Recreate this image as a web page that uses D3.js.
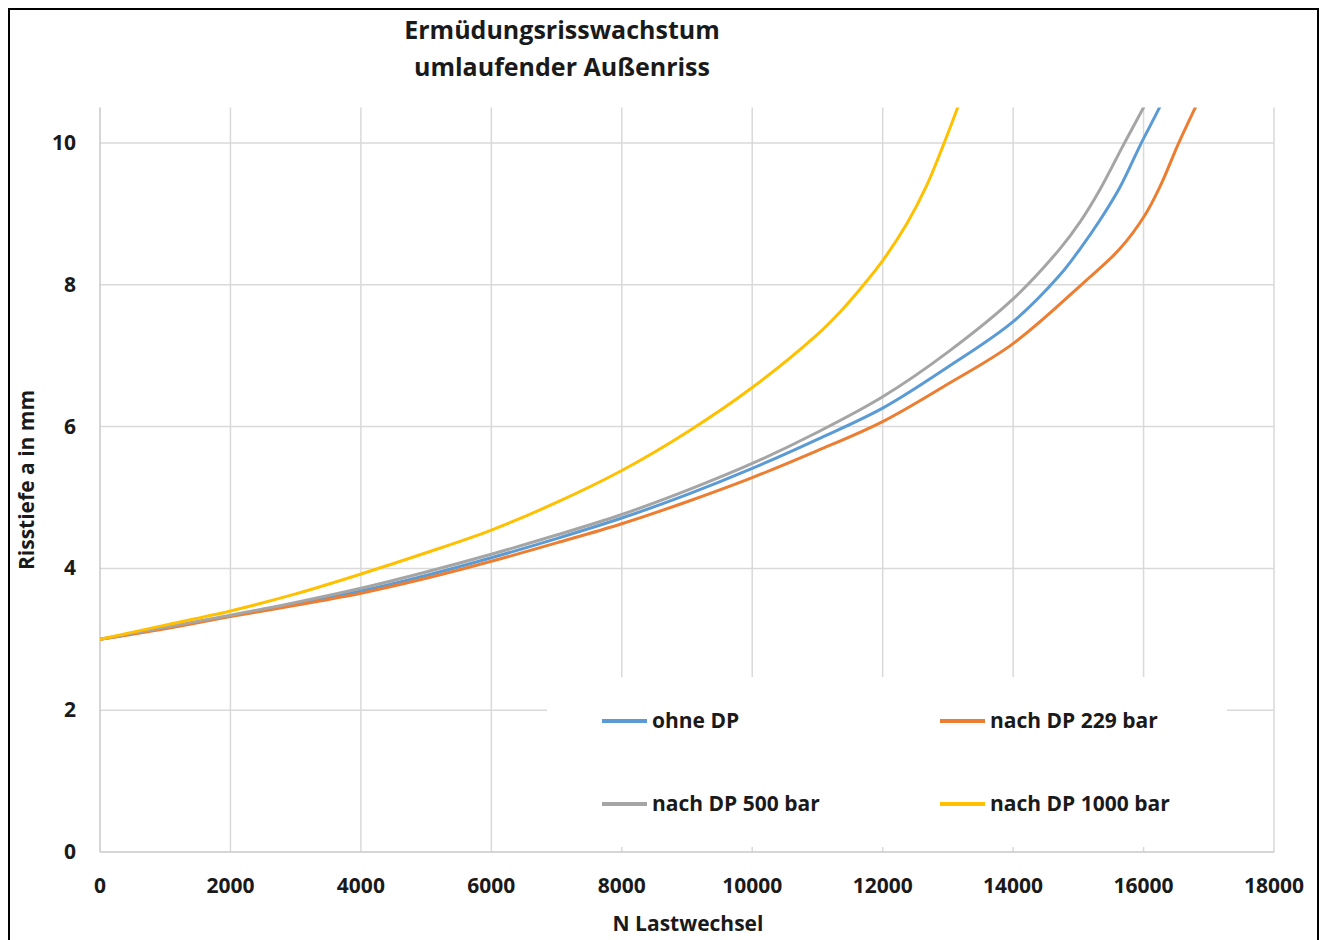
<!DOCTYPE html>
<html>
<head>
<meta charset="utf-8">
<script src="https://cdn.jsdelivr.net/npm/d3@7"></script>
<style>
  html, body { margin: 0; padding: 0; background: #fff; }
  svg { display: block; }
  text { font-family: "Open Sans", "DejaVu Sans", sans-serif; font-weight: bold; fill: #1a1a1a; }
</style>
</head>
<body>
<svg id="chart" width="1325" height="940"></svg>
<script>
// ---- data ----
const titleLines = ["Ermüdungsrisswachstum", "umlaufender Außenriss"];
const xTitle = "N Lastwechsel";
const yTitle = "Risstiefe a in mm";
const xTicks = [0, 2000, 4000, 6000, 8000, 10000, 12000, 14000, 16000, 18000];
const yTicks = [0, 2, 4, 6, 8, 10];
const seriesNames = ["ohne DP", "nach DP 229 bar", "nach DP 500 bar", "nach DP 1000 bar"];
const seriesColors = ["#5B9BD5", "#ED7D31", "#A5A5A5", "#FFC000"];

const ohneN = [0, 1000, 2000, 3000, 4000, 5000, 6000, 7000, 8000, 9000, 10000, 11000, 12000, 13000, 14000, 14720, 15030, 15330, 15640, 15950, 16240, 16400];
const ohneA = [3, 3.16, 3.33, 3.5, 3.68, 3.9, 4.15, 4.42, 4.71, 5.04, 5.41, 5.82, 6.26, 6.84, 7.48, 8.14, 8.51, 8.91, 9.38, 9.97, 10.49, 10.8];

const dp229N = [0, 1000, 2000, 3000, 4000, 5000, 6000, 7000, 8000, 9000, 10000, 11000, 12000, 13000, 14000, 15130, 15640, 16020, 16250, 16540, 16820, 16950];
const dp229A = [3, 3.15, 3.32, 3.48, 3.65, 3.86, 4.1, 4.36, 4.63, 4.94, 5.28, 5.66, 6.07, 6.6, 7.17, 8.07, 8.51, 8.98, 9.38, 10.0, 10.55, 10.8];

const dp500N = [0, 1000, 2000, 3000, 4000, 5000, 6000, 7000, 8000, 9000, 10000, 11000, 12000, 13000, 14000, 14720, 15030, 15330, 15690, 16000, 16200];
const dp500A = [3, 3.17, 3.34, 3.52, 3.72, 3.95, 4.2, 4.47, 4.76, 5.1, 5.48, 5.92, 6.42, 7.05, 7.8, 8.51, 8.89, 9.34, 9.97, 10.5, 10.85];

const dp1000N = [0, 1000, 2000, 3000, 4000, 5000, 6000, 7000, 8000, 9000, 10000, 11000, 11350, 11700, 12000, 12370, 12670, 12930, 13150, 13250];
const dp1000A = [3, 3.2, 3.4, 3.64, 3.92, 4.22, 4.54, 4.93, 5.38, 5.92, 6.55, 7.3, 7.62, 7.99, 8.34, 8.86, 9.39, 9.97, 10.5, 10.75];

const seriesN = [ohneN, dp229N, dp500N, dp1000N];
const seriesA = [ohneA, dp229A, dp500A, dp1000A];

// ---- layout ----
const svg = d3.select("#chart");
const plot = { left: 100, right: 1274, top: 107.5, bottom: 852 };
const x = d3.scaleLinear().domain([0, 18000]).range([plot.left, plot.right]);
const y = d3.scaleLinear().domain([0, 10.5]).range([plot.bottom, plot.top]);

// outer border
svg.append("rect").attr("x", 9).attr("y", 9).attr("width", 1309).attr("height", 960)
  .attr("fill", "none").attr("stroke", "#000").attr("stroke-width", 2);

// gridlines
const grid = svg.append("g");
grid.selectAll("line.v").data(xTicks.filter(d => d > 0)).enter().append("line")
  .attr("x1", d => x(d)).attr("x2", d => x(d))
  .attr("y1", plot.top).attr("y2", plot.bottom)
  .attr("stroke", "#d9d9d9").attr("stroke-width", 1.5);
grid.selectAll("line.h").data(yTicks.filter(d => d > 0)).enter().append("line")
  .attr("x1", plot.left).attr("x2", plot.right)
  .attr("y1", d => y(d)).attr("y2", d => y(d))
  .attr("stroke", "#d9d9d9").attr("stroke-width", 1.5);

// axes lines
svg.append("line").attr("x1", plot.left).attr("x2", plot.left).attr("y1", plot.top).attr("y2", plot.bottom)
  .attr("stroke", "#c8c8c8").attr("stroke-width", 1.5);
svg.append("line").attr("x1", plot.left).attr("x2", plot.right).attr("y1", plot.bottom).attr("y2", plot.bottom)
  .attr("stroke", "#c8c8c8").attr("stroke-width", 1.5);

// tick labels
svg.append("g").selectAll("text").data(xTicks).enter().append("text")
  .attr("x", d => x(d)).attr("y", 893).attr("text-anchor", "middle")
  .style("font-size", "21px").text(d => d);
svg.append("g").selectAll("text").data(yTicks).enter().append("text")
  .attr("x", 76).attr("y", d => y(d) + 7).attr("text-anchor", "end")
  .style("font-size", "21px").text(d => d);

// clip
svg.append("clipPath").attr("id", "clip").append("rect")
  .attr("x", plot.left).attr("y", plot.top).attr("width", plot.right - plot.left).attr("height", plot.bottom - plot.top);

// lines
const line = d3.line().x(d => x(d[0])).y(d => y(d[1])).curve(d3.curveCatmullRom.alpha(0.5));
const linesG = svg.append("g").attr("clip-path", "url(#clip)");
seriesN.forEach((ns, i) => {
  const pts = ns.map((n, j) => [n, seriesA[i][j]]);
  linesG.append("path").datum(pts).attr("d", line)
    .attr("fill", "none").attr("stroke", seriesColors[i]).attr("stroke-width", 3)
    .attr("stroke-linejoin", "round").attr("stroke-linecap", "round");
});

// legend
const lg = svg.append("g");
lg.append("rect").attr("x", 547).attr("y", 677).attr("width", 680).attr("height", 170).attr("fill", "#fff");
const legPos = [[602, 721], [940, 721], [602, 804], [940, 804]];
seriesNames.forEach((name, i) => {
  const [lx, ly] = legPos[i];
  lg.append("line").attr("x1", lx).attr("x2", lx + 45).attr("y1", ly).attr("y2", ly)
    .attr("stroke", seriesColors[i]).attr("stroke-width", 4);
  lg.append("text").attr("x", lx + 50).attr("y", ly + 7).style("font-size", "21px").text(name);
});

// titles
svg.append("g").selectAll("text").data(titleLines).enter().append("text")
  .attr("x", 562).attr("y", (d, i) => 39 + i * 37).attr("text-anchor", "middle")
  .style("font-size", "25px").text(d => d);
svg.append("text").attr("x", 688).attr("y", 931).attr("text-anchor", "middle")
  .style("font-size", "21px").text(xTitle);
svg.append("text").attr("transform", "translate(34,480) rotate(-90)").attr("text-anchor", "middle")
  .style("font-size", "21px").text(yTitle);
</script>
</body>
</html>
